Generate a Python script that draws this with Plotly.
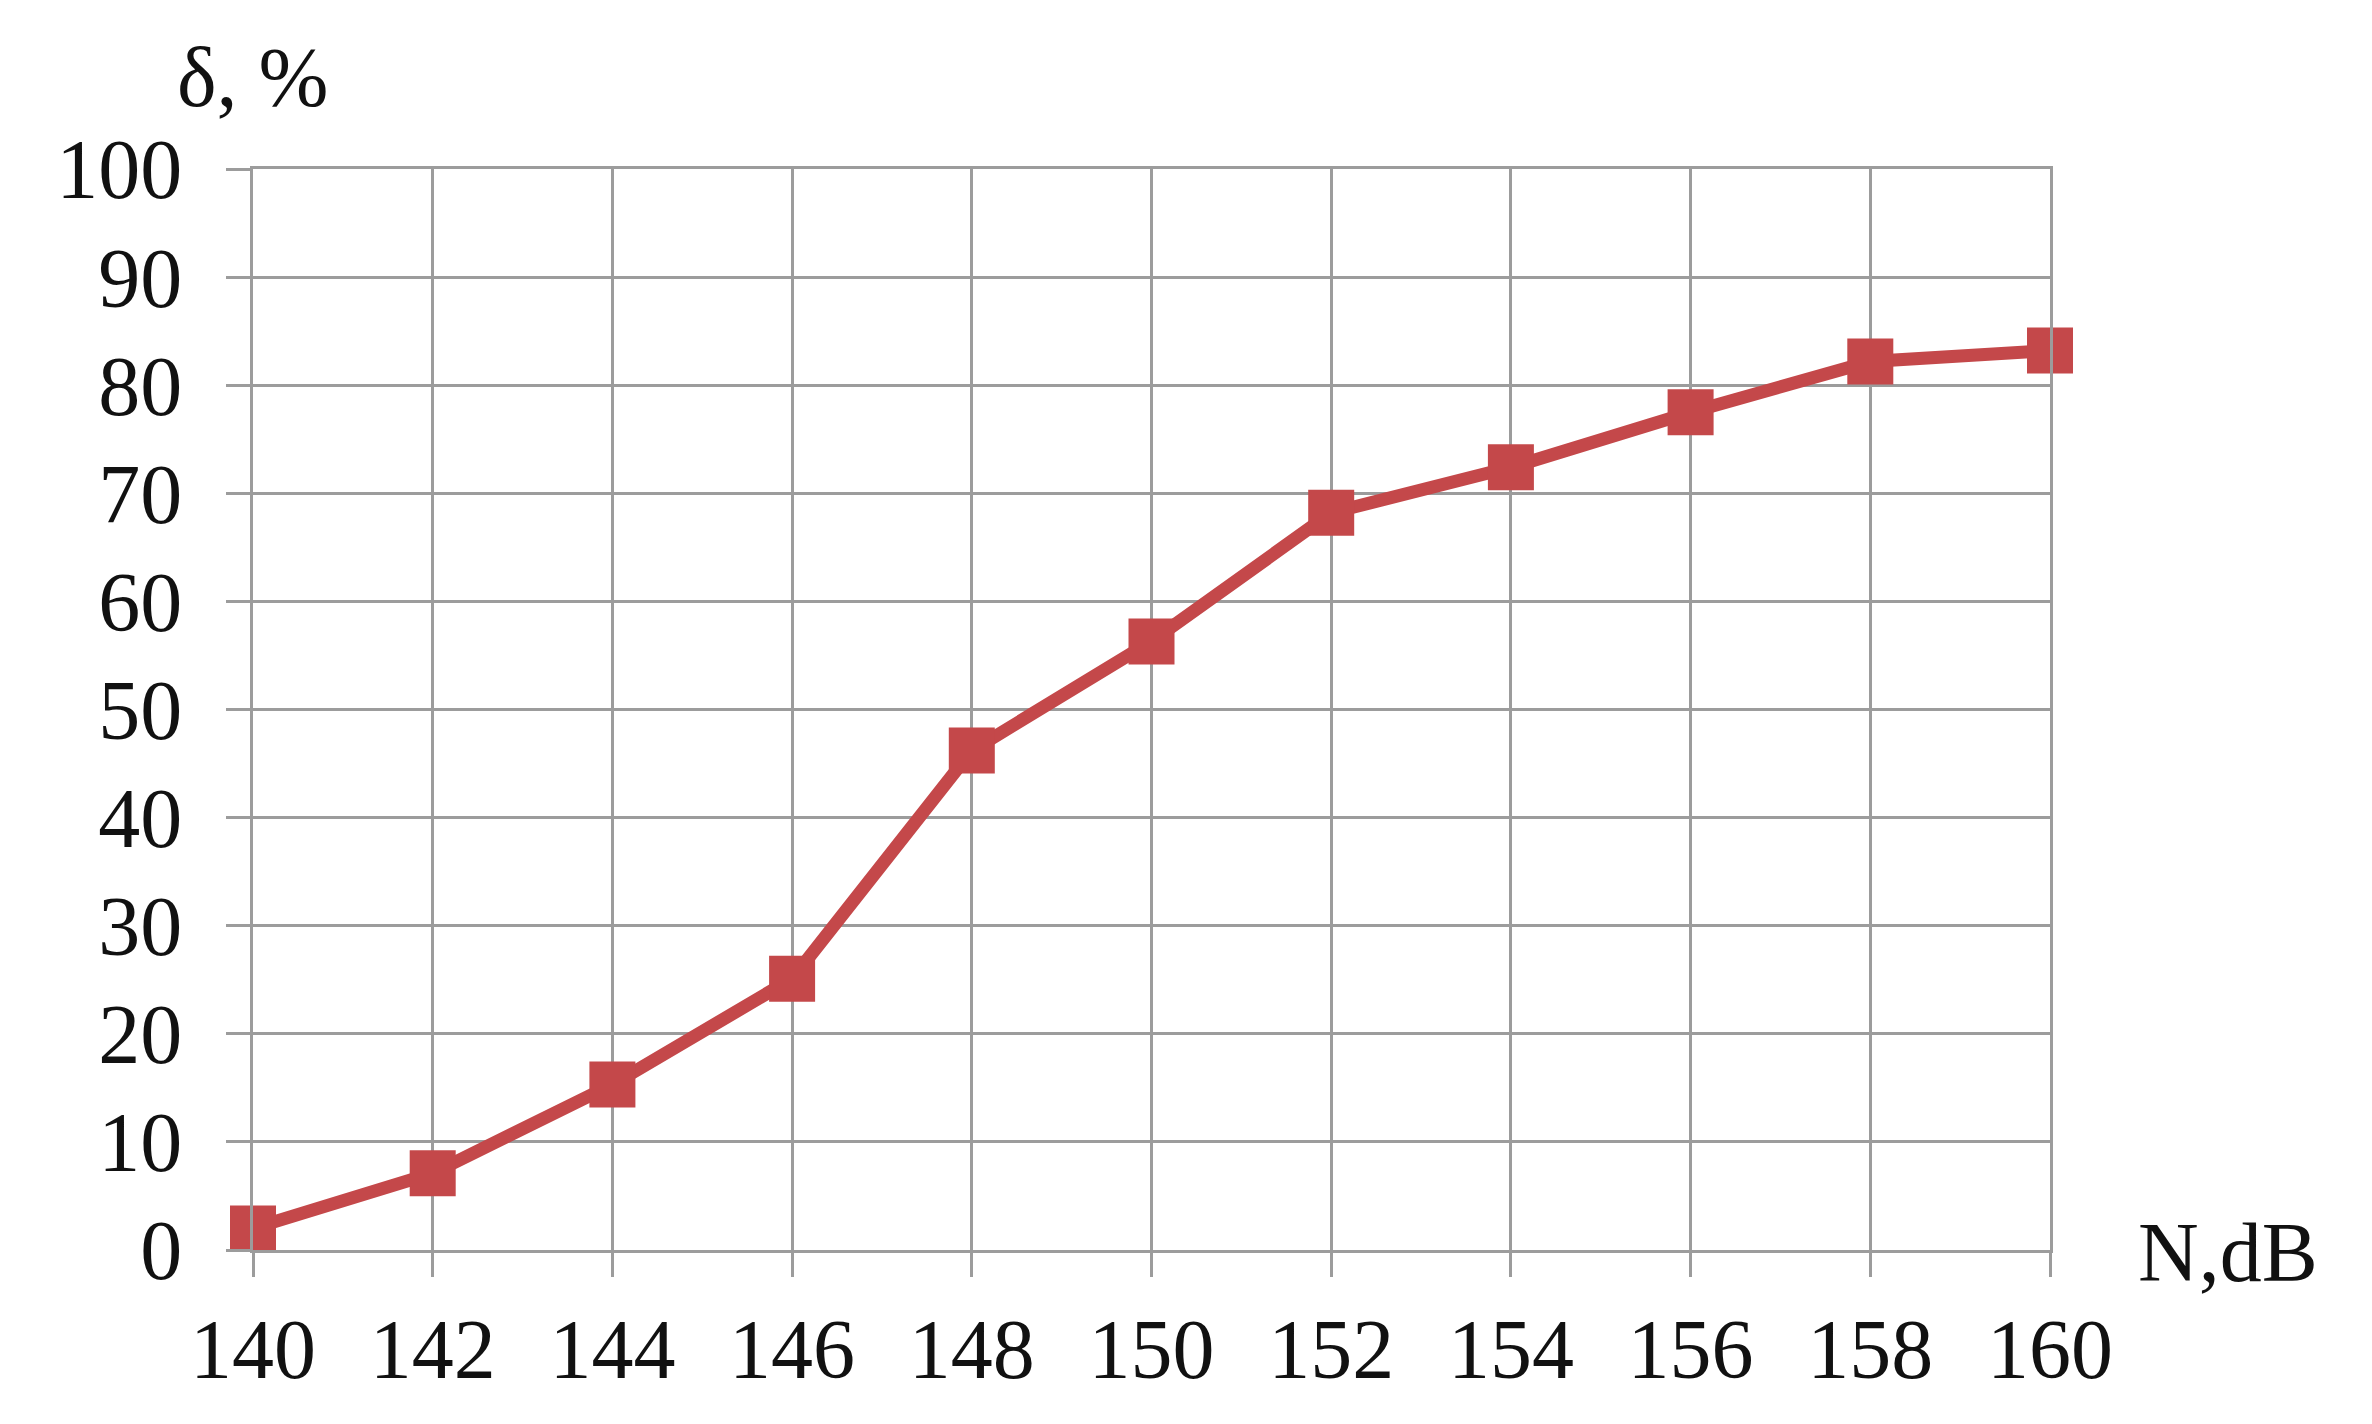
import plotly.graph_objects as go

# noise level, dB
noise_db = [140, 142, 144, 146, 148, 150, 152, 154, 156, 158, 160]
# delta, %
delta_pct = [2.0, 7.1, 15.3, 25.1, 46.2, 56.3, 68.2, 72.4, 77.5, 82.2, 83.2]

x_ticks = [140, 142, 144, 146, 148, 150, 152, 154, 156, 158, 160]
y_ticks = [0, 10, 20, 30, 40, 50, 60, 70, 80, 90, 100]

red = "#C4484A"
grid = "#9C9C9C"
font = dict(family="Liberation Serif", size=84, color="#111111")

fig = go.Figure(go.Scatter(
    x=noise_db, y=delta_pct, mode="lines+markers",
    line=dict(color=red, width=13),
    marker=dict(symbol="square", size=46, color=red),
    cliponaxis=False, showlegend=False))

axis_common = dict(showgrid=True, gridcolor=grid, gridwidth=3,
                   showline=True, linecolor=grid, linewidth=3, mirror=True,
                   ticks="outside", ticklen=24, tickwidth=3, tickcolor=grid,
                   zeroline=False, tickfont=font, automargin=False)

fig.update_xaxes(range=[140, 160], tickvals=x_ticks, ticklabelstandoff=0, **axis_common)
fig.update_yaxes(range=[0, 100], tickvals=y_ticks, ticklabelstandoff=27, **axis_common)

fig.add_annotation(text="δ, %", xref="paper", yref="paper", x=0.0, y=1.04,
                   xanchor="center", yanchor="bottom", showarrow=False, font=font)
fig.add_annotation(text="N,dB", xref="paper", yref="paper", x=1.048, y=-0.047,
                   xanchor="left", yanchor="bottom", showarrow=False, font=font)

# page body adds 8px offset, so margins compensate
fig.update_layout(width=2372, height=1424, plot_bgcolor="white", paper_bgcolor="white",
                  margin=dict(l=245, r=330, t=161, b=182))

fig.write_html("out.html")
